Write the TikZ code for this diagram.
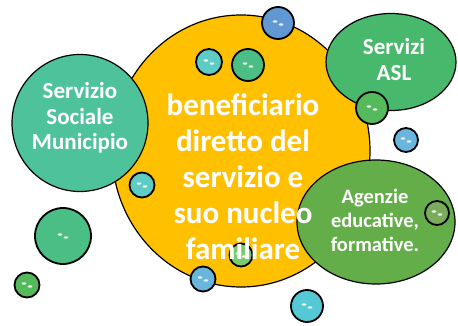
\documentclass[tikz,border=0pt]{standalone}
\usepackage{fontspec}
\setmainfont{Carlito}
\usetikzlibrary{shapes.geometric}

\definecolor{gold}{RGB}{255,192,0}
\definecolor{teal1}{RGB}{78,195,155}
\definecolor{green1}{RGB}{72,185,108}
\definecolor{green2}{RGB}{100,174,74}
\definecolor{aqua}{RGB}{92,204,196}
\definecolor{mint}{RGB}{74,190,132}
\definecolor{sky}{RGB}{96,152,212}
\definecolor{leaf}{RGB}{84,186,92}
\definecolor{ice}{RGB}{104,182,222}
\definecolor{cyan1}{RGB}{84,200,212}
\definecolor{olive1}{RGB}{122,172,92}
\definecolor{pale}{RGB}{124,202,112}

% glossy rim for every fill colour
\newcommand\rimshading[1]{%
  \pgfdeclareradialshading{rim#1}{\pgfpoint{0bp}{0bp}}{%
    color(0bp)=(#1); color(34bp)=(#1); color(45bp)=(#1!65!white); color(50bp)=(#1!80!white)}}
\rimshading{gold}\rimshading{teal1}\rimshading{green1}\rimshading{green2}
\rimshading{aqua}\rimshading{mint}\rimshading{sky}\rimshading{leaf}
\rimshading{ice}\rimshading{cyan1}\rimshading{olive1}\rimshading{pale}

\begin{document}
\begin{tikzpicture}[x=1pt, y=-1pt,
  blob/.style={ellipse, draw, line width=1.2pt, inner sep=0pt, shade, shading=rim#1},
  bubble/.style 2 args={circle, draw, line width=1.8pt, inner sep=0pt, minimum size=#1,
    shade, shading=rim#2,
    path picture={
      \fill[white, opacity=.9, rotate=-25] ([xshift=-3pt, yshift=1.5pt]path picture bounding box.center) ellipse (2.4pt and 1.2pt);
      \fill[white, opacity=.9, rotate=-25] ([xshift=3pt, yshift=-1.5pt]path picture bounding box.center) ellipse (2.4pt and 1.2pt);}},
  label/.style={text=white, align=center, inner sep=0pt}]
  \useasboundingbox (0,0) rectangle (458,326);

  % big shapes
  \node[blob=gold, minimum width=258, minimum height=272] (benef) at (241, 151) {};
  \node[blob=teal1, minimum width=136, minimum height=137] (sociale) at (80, 123) {};
  \node[blob=green1, minimum width=130, minimum height=97] (asl) at (391, 62) {};
  \node[blob=green2, minimum width=158, minimum height=124] (agenzie) at (376, 222) {};

  % small bubbles
  \node[bubble={26}{aqua}] (b1) at (209, 62) {};
  \node[bubble={32}{mint}] (b2) at (248, 65) {};
  \node[bubble={32}{sky}] (b3) at (278, 23) {};
  \node[bubble={32}{leaf}] (b4) at (372, 108) {};
  \node[bubble={24}{ice}] (b5) at (406, 140) {};
  \node[bubble={25}{aqua}] (b6) at (142, 185) {};
  \node[bubble={56}{mint}] (b7) at (63, 236) {};
  \node[bubble={25}{leaf}] (b8) at (27, 285) {};
  \node[bubble={25}{ice}] (b9) at (203, 279) {};
  \node[bubble={23}{pale}] (b10) at (241, 255) {};
  \node[bubble={32}{cyan1}] (b11) at (307, 306) {};
  \node[bubble={24}{olive1}] (b12) at (437, 213) {};

  % texts
  \node[label, font=\bfseries\fontsize{31}{36}\selectfont] (tbenef) at (243, 177)
    {beneficiario\\diretto del\\servizio e\\suo nucleo\\familiare};
  \node[label, font=\bfseries\fontsize{23}{25.5}\selectfont] (tsociale) at (80, 118)
    {Servizio\\Sociale\\Municipio};
  \node[label, font=\bfseries\fontsize{23}{26}\selectfont] (tasl) at (394, 60)
    {Servizi\\ASL};
  \node[label, font=\bfseries\fontsize{20.5}{24}\selectfont] (tagenzie) at (375, 220)
    {Agenzie\\educative,\\formative.};
\end{tikzpicture}
\end{document}
